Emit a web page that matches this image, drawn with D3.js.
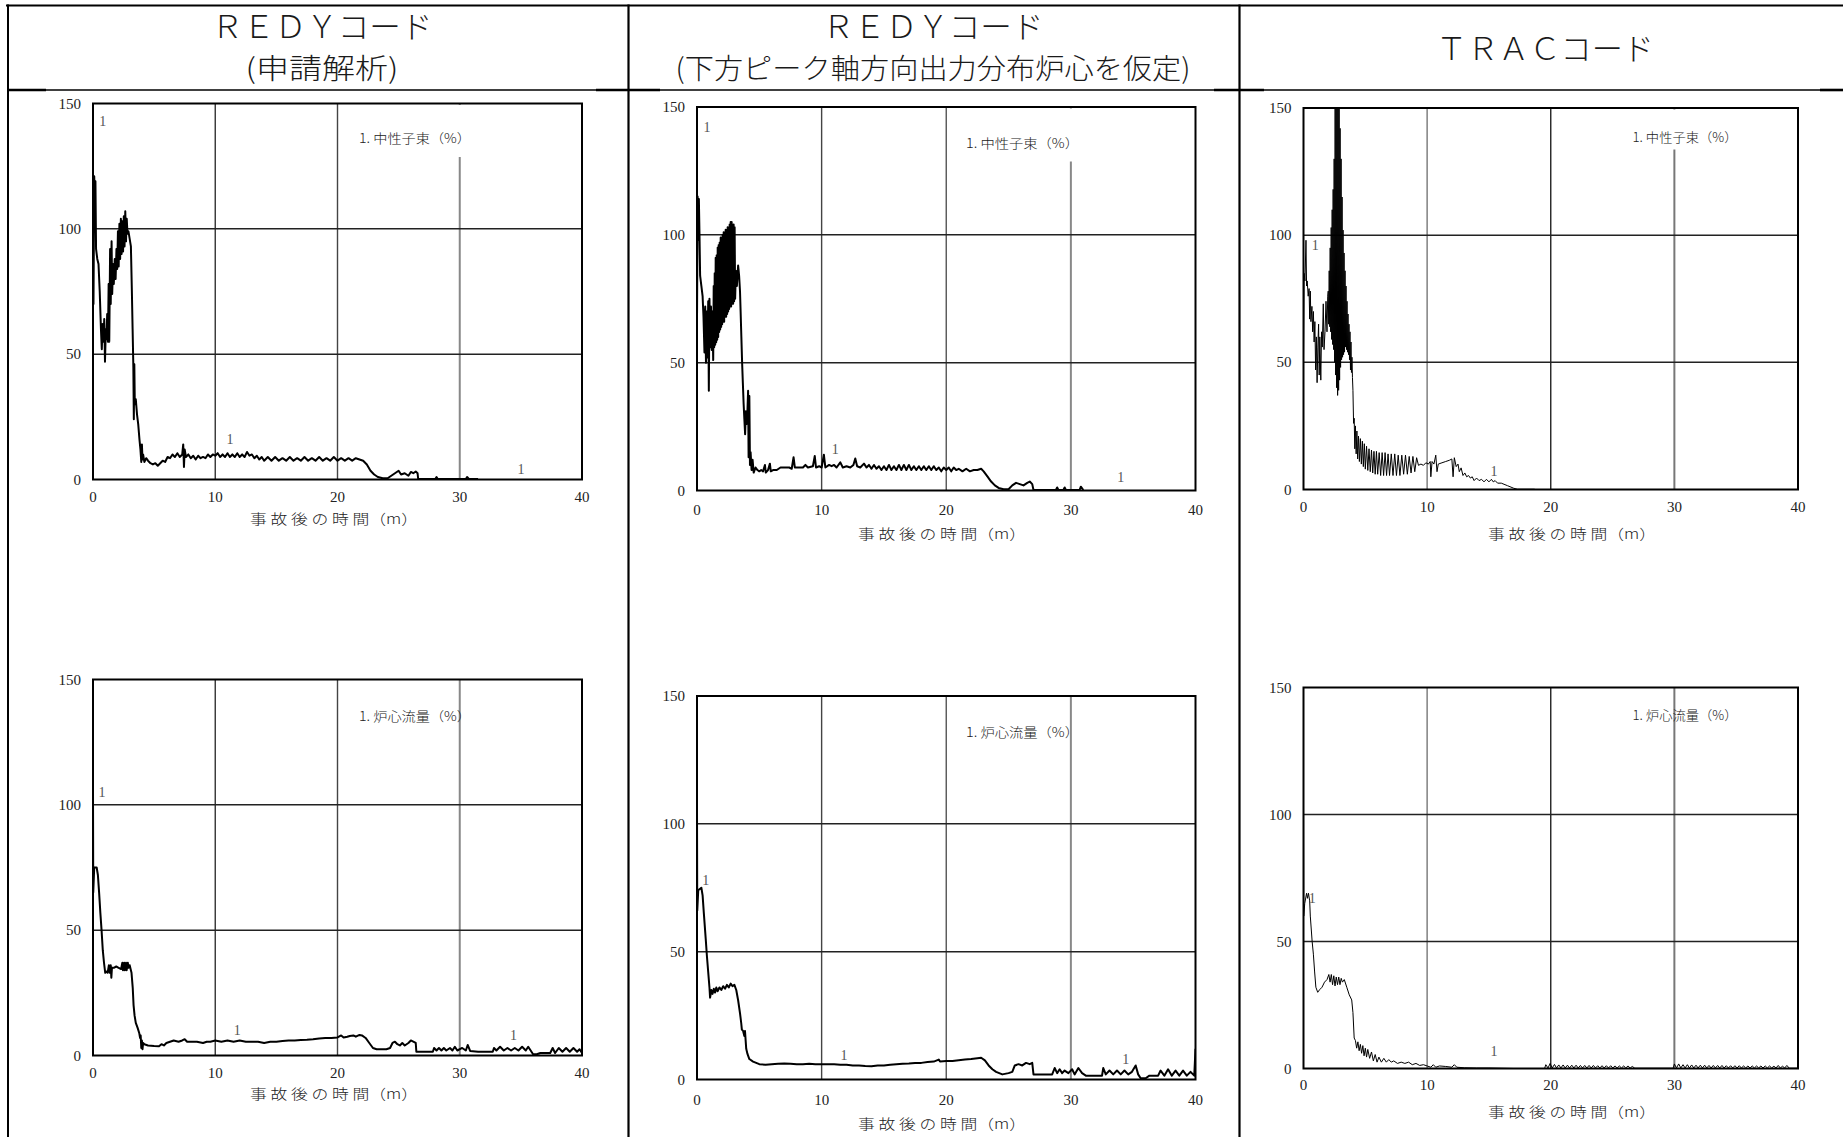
<!DOCTYPE html>
<html><head><meta charset="utf-8">
<script src="https://cdn.jsdelivr.net/npm/d3@7"></script>
<style>body{margin:0;background:#fff}svg{display:block}</style>
</head><body>
<svg id="c" width="1843" height="1137"></svg>
<script>
// ---------- text ----------
const xTicks = [0, 10, 20, 30, 40];
const yTicks = [0, 50, 100, 150];
const colTitles = [["ＲＥＤＹコード", "(申請解析)"], ["ＲＥＤＹコード", "(下方ピーク軸方向出力分布炉心を仮定)"], ["ＴＲＡＣコード"]];
const xAxisTitle = "事 故 後 の 時 間（m）";
const legendFlux = "1. 中性子束（%）";
const legendFlow = "1. 炉心流量（%）";

// ---------- data: [time (min), value (%)] ----------
const redyA_flux = [[0,100],[0.04,70],[0.1,121],[0.15,112],[0.2,119],[0.25,92],[0.35,88],[0.45,86],[0.55,75],[0.65,60],[0.72,52],[0.78,62],[0.85,55],[0.92,64],[0.98,47],[1.05,60],[1.1,56],[1.16,66],[1.22,55],[1.28,78],[1.33,55],[1.4,92],[1.45,70],[1.52,95],[1.57,74],[1.64,86],[1.7,78],[1.78,88],[1.85,80],[1.92,92],[1.98,84],[2.04,99],[2.1,85],[2.16,102],[2.22,88],[2.28,104],[2.34,90],[2.4,103],[2.46,91],[2.52,105],[2.58,93],[2.64,107],[2.7,95],[2.76,104],[2.82,98],[2.9,99],[3.0,96],[3.1,93],[3.18,75],[3.24,60],[3.3,45],[3.34,24],[3.38,46],[3.42,30],[3.5,32],[3.6,26],[3.7,22],[3.8,16],[3.88,12],[3.95,7],[4.0,14],[4.05,8],[4.1,10],[4.2,7],[4.35,8.5],[4.5,7.5],[4.7,6.5],[4.9,6],[5.1,6.5],[5.3,5.5],[5.5,6.5],[5.7,7.5],[5.9,7],[6.1,9],[6.3,8.5],[6.5,10],[6.7,9],[6.9,10.5],[7.1,9],[7.3,10],[7.38,14],[7.44,5],[7.5,12],[7.6,9],[7.8,10],[8.0,8.5],[8.2,9.5],[8.4,8],[8.6,9.5],[8.8,8.5],[9.0,9],[9.2,8.5],[9.4,10],[9.6,9],[9.8,10],[10.0,9.5],[10.2,10.5],[10.4,9],[10.6,10],[10.8,9],[11.0,10.5],[11.2,9],[11.4,10],[11.6,9],[11.8,10.5],[12.0,9],[12.2,10],[12.4,9],[12.6,11],[12.8,9.5],[13.0,10],[13.2,8.5],[13.4,9.5],[13.6,8],[13.8,9],[14.0,7.5],[14.3,9],[14.6,7.5],[14.9,9],[15.2,7.5],[15.5,8.5],[15.8,7.5],[16.1,9],[16.4,7.5],[16.7,8.5],[17.0,7.5],[17.3,9],[17.6,7.5],[17.9,8.5],[18.2,7.5],[18.5,9],[18.8,7.5],[19.1,8.5],[19.4,7.5],[19.7,9],[20.0,7.5],[20.3,8.5],[20.6,7.5],[20.9,8.5],[21.2,7.5],[21.5,8.5],[21.8,8],[22.1,7.5],[22.4,6],[22.7,3.5],[23.0,2],[23.3,1],[23.7,0.5],[24.1,0.5],[24.4,1.5],[24.7,2.5],[25.0,3.5],[25.2,2],[25.5,2.5],[25.8,1.5],[26.0,3],[26.2,2.5],[26.4,3.2],[26.55,2.5],[26.6,0.2],[28.0,0.2],[28.1,1],[28.2,0.2],[30.5,0.2],[30.6,1],[30.75,0.2],[31.5,0.2]];
const redyA_fluxLabels = [[0.8,143],[11.2,16],[35,4]];

const redyB_flux = [[0,66],[0.05,115],[0.1,98],[0.15,114],[0.2,100],[0.25,84],[0.35,80],[0.45,76],[0.52,68],[0.6,54],[0.66,72],[0.72,50],[0.78,70],[0.84,52],[0.9,74],[0.95,39],[1.0,75],[1.06,56],[1.12,72],[1.18,55],[1.24,70],[1.3,51],[1.34,80],[1.38,56],[1.42,85],[1.46,57],[1.50,91],[1.54,58],[1.58,92],[1.62,59],[1.66,95],[1.70,60],[1.74,96],[1.78,62],[1.82,97],[1.86,63],[1.90,99],[1.94,64],[1.98,99],[2.02,65],[2.06,100],[2.10,66],[2.14,101],[2.18,66],[2.22,101],[2.26,68],[2.30,102],[2.34,68],[2.38,102],[2.42,69],[2.46,103],[2.50,70],[2.54,103],[2.58,71],[2.62,104],[2.66,72],[2.70,105],[2.74,72],[2.78,105],[2.82,73],[2.86,104],[2.90,73],[2.94,104],[2.98,74],[3.02,103],[3.06,75],[3.12,86],[3.2,80],[3.3,88],[3.38,84],[3.45,78],[3.5,70],[3.56,60],[3.62,50],[3.68,42],[3.74,34],[3.8,28],[3.86,22],[3.92,31],[3.98,26],[4.04,30],[4.1,39],[4.14,13],[4.2,37],[4.25,10],[4.3,15],[4.38,8],[4.46,12],[4.55,7],[4.7,9],[4.85,8],[5.0,7.5],[5.15,8],[5.3,7.5],[5.45,10],[5.52,7],[5.7,8],[5.85,10.5],[5.92,7.5],[6.1,8],[6.4,8],[6.7,9],[7.0,9],[7.4,9],[7.6,8.5],[7.75,13],[7.85,9],[8.2,9],[8.5,9],[8.7,10],[8.9,9],[9.3,9.5],[9.45,13.5],[9.55,9],[9.8,9.5],[10.0,9],[10.18,14],[10.3,9],[10.6,10],[10.8,9.5],[11.0,10],[11.2,9],[11.5,11],[11.7,9],[12.0,9.5],[12.3,9],[12.55,10],[12.7,12.5],[12.85,9.5],[13.1,9],[13.4,10.5],[13.6,9],[13.8,10],[14.0,8.5],[14.2,10],[14.4,8.5],[14.6,9.5],[14.8,8],[15.0,9.5],[15.2,8],[15.4,10],[15.6,8],[15.8,9.5],[16.0,8],[16.2,10],[16.4,8],[16.6,10],[16.8,8],[17.0,10],[17.2,8],[17.4,9.5],[17.6,8],[17.8,9.5],[18.0,8],[18.2,9.5],[18.4,8],[18.6,9.5],[18.8,8],[19.0,9.5],[19.2,8],[19.4,9],[19.6,7.5],[19.8,9],[20.0,8],[20.2,9],[20.4,7.5],[20.6,9],[20.8,8],[21.0,8.5],[21.3,7.5],[21.6,8.5],[21.9,7.5],[22.2,8],[22.5,8],[22.8,8.5],[23.0,7.5],[23.3,5.5],[23.6,3.5],[23.9,2],[24.2,1],[24.6,0.5],[25.0,0.5],[25.3,2],[25.6,3],[25.9,2.5],[26.2,2],[26.5,3],[26.7,3.5],[26.9,2.5],[27.0,0.2],[28.8,0.2],[28.9,1.2],[29.0,0.2],[29.4,0.2],[29.5,1.2],[29.6,0.2],[30.7,0.2],[30.8,1.5],[31.0,0.2]];
const redyB_fluxLabels = [[0.8,142],[11.1,16],[34,5]];

const trac_flux = [[0,52],[0.05,85],[0.12,82],[0.2,98],[0.25,80],[0.3,82],[0.38,76],[0.45,79],[0.5,67],[0.55,78],[0.6,66],[0.68,72],[0.74,62],[0.8,70],[0.86,58],[0.92,66],[0.98,47],[1.04,60],[1.1,42],[1.16,56],[1.22,65],[1.27,45],[1.32,60],[1.4,43],[1.46,62],[1.52,56],[1.6,73],[1.66,55],[1.74,62],[1.82,74],[1.9,62],[1.96,76],[2.00,78],[2.04,65],[2.08,86],[2.12,64],[2.16,95],[2.20,62],[2.24,103],[2.28,59],[2.32,110],[2.36,57],[2.40,118],[2.44,55],[2.48,130],[2.52,50],[2.56,150],[2.60,45],[2.64,165],[2.68,40],[2.72,165],[2.76,37],[2.80,165],[2.84,39],[2.88,160],[2.92,43],[2.96,142],[3.00,48],[3.04,130],[3.08,51],[3.12,115],[3.16,52],[3.20,102],[3.24,53],[3.28,93],[3.32,54],[3.36,86],[3.40,56],[3.44,80],[3.48,55],[3.52,74],[3.56,54],[3.60,69],[3.64,53],[3.68,65],[3.72,51],[3.76,62],[3.80,47],[3.84,58],[3.88,46],[3.92,52],[3.96,44],[4.0,39],[4.05,26],[4.1,28],[4.15,16],[4.2,25],[4.26,14],[4.32,23],[4.38,12],[4.45,21],[4.52,11],[4.6,20],[4.68,10],[4.76,19],[4.84,9],[4.92,18],[5.0,8],[5.1,17],[5.2,7.5],[5.3,16],[5.4,7],[5.5,15.5],[5.6,6.5],[5.7,15],[5.8,6],[5.9,15],[6.0,6],[6.12,14.5],[6.24,5.5],[6.36,14.5],[6.48,5.5],[6.6,14.5],[6.72,5.5],[6.84,14],[6.96,5.5],[7.1,14],[7.24,5.5],[7.38,14],[7.52,5.5],[7.66,13.5],[7.8,5.5],[7.95,13.5],[8.1,6],[8.25,13.5],[8.4,6],[8.55,13],[8.7,6.5],[8.85,13],[9.0,7],[9.15,12.5],[9.3,9.5],[9.5,10],[9.7,9.5],[9.9,10.5],[10.1,10],[10.25,11],[10.3,5],[10.4,11],[10.55,10],[10.7,13.5],[10.8,7],[10.9,10],[11.2,10.5],[11.5,11],[11.8,11.5],[12.0,12],[12.1,5],[12.2,12.5],[12.35,9],[12.5,10],[12.6,7],[12.75,8.5],[12.9,5.5],[13.05,6.5],[13.2,5],[13.35,5.5],[13.5,4.5],[13.65,5],[13.8,3.5],[14.0,4.5],[14.2,3.5],[14.4,4],[14.6,3],[14.8,4],[15.0,3],[15.2,4],[15.35,3],[15.5,3.5],[15.7,2.5],[16.0,2.5],[16.5,1.5],[17.0,0.5],[17.3,0.1],[18.7,0.1]];
const trac_fluxLabels = [[0.96,96],[15.4,7]];

const redyA_flow = [[0,105],[0.02,65],[0.1,75],[0.3,75],[0.4,72],[0.5,65],[0.6,57],[0.7,50],[0.8,42],[0.9,37],[1.0,33],[1.1,33.5],[1.2,33],[1.3,36],[1.38,33],[1.45,36],[1.5,31],[1.55,35],[1.7,35],[1.9,35.5],[2.1,35],[2.3,34.5],[2.4,37],[2.45,34],[2.55,37],[2.6,34],[2.7,37],[2.75,34],[2.85,37],[2.9,35],[3.0,36],[3.15,33],[3.25,27],[3.32,20],[3.4,16],[3.5,13],[3.65,11],[3.78,9],[3.85,7],[3.9,8],[3.95,3],[4.0,6],[4.05,2.5],[4.1,5],[4.2,4.5],[4.5,4],[5.0,3.8],[5.4,3.7],[5.6,4.5],[5.8,4],[6.0,5],[6.3,5.5],[6.6,6],[7.0,5.5],[7.3,6],[7.5,6.5],[7.7,5.5],[8.0,5.5],[8.5,5.5],[9.0,5],[9.3,5.5],[9.6,5.5],[10.0,6],[10.5,5.5],[11.0,6],[11.5,5.5],[12.0,6],[12.5,5.5],[13.0,5.5],[13.5,5.5],[14.0,5],[14.5,5.5],[15.0,5.5],[15.5,5.8],[16.0,6],[16.5,6],[17.0,6.2],[17.5,6.3],[18.0,6.5],[18.5,6.8],[19.0,7],[19.5,7],[20.0,7.2],[20.3,8],[20.5,7.2],[20.8,7.5],[21.0,7.8],[21.3,8],[21.5,7.5],[21.8,8.2],[22.0,8],[22.3,7],[22.6,5],[22.9,3],[23.2,2.5],[23.6,2.5],[24.0,2.5],[24.3,3],[24.5,5],[24.7,5.5],[24.9,4.5],[25.1,4],[25.3,5],[25.5,4],[25.8,5],[26.0,6],[26.2,5.5],[26.4,5],[26.45,1.5],[27.0,1.5],[27.8,1.5],[27.9,3],[28.1,2],[28.3,3],[28.5,2],[28.7,3],[28.9,2],[29.2,3],[29.4,2],[29.6,3.5],[29.8,2],[30.2,3],[30.5,2],[30.65,4.2],[30.85,1.8],[31.5,1.5],[32.7,1.5],[32.8,3],[33.0,2],[33.3,3.5],[33.6,2],[33.9,3],[34.2,2],[34.5,3],[34.8,2],[35.1,3.5],[35.4,2],[35.6,3.5],[35.8,2],[36.0,0.5],[36.3,0.5],[36.6,1],[37.4,1],[37.6,3],[37.8,1],[38.1,3],[38.4,1.5],[38.7,3],[39.0,1.5],[39.3,3],[39.6,1.5],[39.8,2.5],[40,1]];
const redyA_flowLabels = [[0.73,105],[11.8,10],[34.4,8]];

const redyB_flow = [[0,105],[0.02,66],[0.1,74],[0.35,75],[0.45,72],[0.55,65],[0.7,55],[0.8,48],[0.9,42],[1.0,36],[1.05,32],[1.15,35],[1.25,33.5],[1.35,35.5],[1.45,34],[1.55,36],[1.65,34.5],[1.8,36],[1.95,35],[2.1,36.5],[2.25,35.5],[2.4,37],[2.55,36],[2.7,37.5],[2.85,36.5],[3.0,37],[3.15,35],[3.3,31],[3.45,26],[3.55,22],[3.6,19.5],[3.7,19],[3.8,17],[3.85,19],[3.95,12],[4.05,10],[4.2,8],[4.5,7],[5.0,6],[5.5,5.8],[6.0,6],[6.5,6.2],[7.0,6.3],[7.5,6.2],[8.0,6],[8.5,6],[9.0,6.2],[9.5,6],[10.0,6],[10.5,6],[11.0,6],[11.5,5.8],[12.0,5.8],[12.5,5.5],[13.0,5.5],[13.5,5.3],[14.0,5.2],[14.5,5.5],[15.0,5.5],[15.5,5.8],[16.0,6],[16.5,6.2],[17.0,6.3],[17.5,6.5],[18.0,6.5],[18.5,6.8],[19.0,7],[19.4,7.8],[19.5,7],[20.0,7.2],[20.5,7.2],[21.0,7.5],[21.5,7.8],[22.0,8],[22.5,8.3],[22.8,8.5],[23.1,7.5],[23.4,5.5],[23.7,4],[24.0,3],[24.5,2],[25.0,2.5],[25.3,3],[25.5,5.5],[25.8,6],[26.1,5.5],[26.4,6.5],[26.7,6],[26.9,6.5],[27.0,2],[27.5,2],[28.5,2],[28.7,4.5],[28.9,2.5],[29.1,4],[29.3,2.5],[29.5,3.5],[29.8,2.5],[30.1,4],[30.3,2],[30.6,4.5],[30.9,2.5],[31.2,1.5],[32.5,1.5],[32.6,4.5],[32.8,2],[33.1,3.5],[33.4,2],[33.7,3.5],[34.0,2],[34.3,3.5],[34.6,2],[34.9,3],[35.2,5.5],[35.4,2],[35.6,0.5],[36.0,0.5],[36.3,1.5],[37.0,1.5],[37.2,3.5],[37.5,1.5],[37.8,4],[38.1,1.5],[38.4,3.5],[38.7,1.5],[39.0,3.5],[39.3,1.5],[39.6,3],[39.9,1.5],[40,12]];
const redyB_flowLabels = [[0.7,78],[11.8,9.5],[34.4,8]];

const trac_flow = [[0,105],[0.02,60],[0.1,65],[0.25,69],[0.32,67],[0.4,69],[0.5,66],[0.55,60],[0.7,50],[0.8,45],[0.9,38],[1.0,32],[1.15,30],[1.3,31],[1.5,32],[1.7,34],[1.9,35],[2.05,37],[2.15,34],[2.25,37],[2.35,33],[2.45,36.5],[2.55,32.5],[2.65,36],[2.75,33],[2.85,36],[2.95,33],[3.05,35.5],[3.15,34],[3.3,35],[3.5,32],[3.7,29],[3.9,27],[4.0,22],[4.1,12],[4.2,11],[4.3,8],[4.4,10.5],[4.5,7],[4.6,9.5],[4.7,6],[4.8,9],[4.9,5],[5.0,8],[5.1,4.5],[5.2,7.5],[5.35,4],[5.5,6.5],[5.65,3],[5.8,5.5],[5.95,2.5],[6.1,4.5],[6.3,2.5],[6.5,4],[6.7,2.5],[6.9,3.5],[7.1,2.5],[7.3,3],[7.6,2],[7.9,2.5],[8.2,2],[8.5,2.5],[8.8,1.5],[9.1,2],[9.4,1.2],[9.7,1.5],[10.0,1],[10.3,0.5],[10.5,1.5],[10.7,0.5],[11.0,1],[11.5,0.8],[12.0,0.5],[12.2,1.5],[12.4,0.5],[13.0,0.3],[14.0,0.2],[15.0,0.2],[17.0,0],[19.5,0],[19.6,1.5],[19.78,0.2],[19.95,2],[20.12,0.2],[20.3,1.6],[20.47,0.2],[20.65,1.4],[20.82,0.2],[21.0,1.4],[21.17,0.2],[21.35,1.3],[21.52,0.2],[21.7,1.3],[21.87,0.2],[22.05,1.3],[22.22,0.2],[22.4,1.2],[22.57,0.2],[22.75,1.2],[22.92,0.2],[23.1,1.2],[23.27,0.2],[23.45,1.2],[23.62,0.2],[23.8,1.1],[23.97,0.2],[24.15,1.1],[24.32,0.2],[24.5,1.1],[24.67,0.2],[24.85,1.1],[25.02,0.2],[25.2,1],[25.37,0.2],[25.55,1],[25.72,0.2],[25.9,1],[26.07,0.2],[26.25,1],[26.42,0.2],[26.6,0.8],[26.8,0.1],[29.9,0.1],[30.0,1.8],[30.17,0.2],[30.35,1.8],[30.52,0.2],[30.7,1.5],[30.87,0.2],[31.05,1.5],[31.22,0.2],[31.4,1.4],[31.57,0.2],[31.75,1.3],[31.92,0.2],[32.1,1.3],[32.27,0.2],[32.45,1.3],[32.62,0.2],[32.8,1.2],[32.97,0.2],[33.15,1.2],[33.32,0.2],[33.5,1.2],[33.67,0.2],[33.85,1.2],[34.02,0.2],[34.2,1.1],[34.37,0.2],[34.55,1.1],[34.72,0.2],[34.9,1.1],[35.07,0.2],[35.25,1.1],[35.42,0.2],[35.6,1],[35.77,0.2],[35.95,1],[36.12,0.2],[36.3,1],[36.47,0.2],[36.65,1],[36.82,0.2],[37.0,1],[37.17,0.2],[37.35,1],[37.52,0.2],[37.7,1],[37.87,0.2],[38.05,0.9],[38.22,0.2],[38.4,1.2],[38.57,0.2],[38.75,0.9],[38.92,0.2],[39.1,1.2],[39.3,0.1],[40,0.1]];
const trac_flowLabels = [[0.7,67],[15.4,6.5]];

// ---------- layout ----------
const panels = [
  {x0:93, x1:582, y0:103.5, y1:479.5, data:redyA_flux, labels:redyA_fluxLabels, legend:legendFlux, lw:2, tickDy:17, titleX:334, titleDy:38, legDx:266, legDy:34, legW:112, mask:52, grid:["#333","#444","#888"]},
  {x0:697, x1:1195.5, y0:107, y1:490.5, data:redyB_flux, labels:redyB_fluxLabels, legend:legendFlux, lw:2, tickDy:19.5, titleX:942, titleDy:42.5, legDx:269, legDy:35, legW:113, mask:53, grid:["#444","#555","#888"]},
  {x0:1303.5, x1:1798, y0:108, y1:489.5, data:trac_flux, labels:trac_fluxLabels, legend:legendFlux, lw:1, tickDy:17.5, titleX:1572, titleDy:43.5, legDx:329, legDy:28, legW:105, mask:40, grid:["#777","#222","#777"]},
  {x0:93, x1:582, y0:679.5, y1:1055.5, data:redyA_flow, labels:redyA_flowLabels, legend:legendFlow, lw:2, tickDy:17, titleX:334, titleDy:37.5, legDx:266, legDy:35.5, legW:112, mask:0, grid:["#333","#444","#888"]},
  {x0:697, x1:1195.5, y0:696, y1:1079.5, data:redyB_flow, labels:redyB_flowLabels, legend:legendFlow, lw:2, tickDy:20, titleX:942, titleDy:43.5, legDx:269, legDy:35, legW:113, mask:0, grid:["#444","#555","#888"]},
  {x0:1303.5, x1:1798, y0:687.5, y1:1068.5, data:trac_flow, labels:trac_flowLabels, legend:legendFlow, lw:1, tickDy:16, titleX:1572, titleDy:42.5, legDx:329, legDy:27, legW:105, mask:0, grid:["#777","#222","#777"]}
];

const svg = d3.select("#c");
const serif = "'Liberation Serif','Noto Sans CJK JP',serif";
const cjk = "'Noto Sans CJK JP','Liberation Serif',sans-serif";

// ---------- table frame ----------
const frame = svg.append("g").attr("stroke", "#000").attr("fill", "none");
frame.append("line").attr("x1", 6).attr("x2", 1843).attr("y1", 5.5).attr("y2", 5.5).attr("stroke-width", 2.2);
frame.append("line").attr("x1", 8).attr("x2", 8).attr("y1", 4.5).attr("y2", 1137).attr("stroke-width", 2);
frame.append("line").attr("x1", 628.5).attr("x2", 628.5).attr("y1", 4.5).attr("y2", 1137).attr("stroke-width", 2.2);
frame.append("line").attr("x1", 1239.5).attr("x2", 1239.5).attr("y1", 4.5).attr("y2", 1137).attr("stroke-width", 2.2);
frame.append("line").attr("x1", 8).attr("x2", 1843).attr("y1", 90).attr("y2", 90).attr("stroke-width", 1.3);
[[8,46],[596,660],[1214,1264],[1820,1843]].forEach(s =>
  frame.append("line").attr("x1", s[0]).attr("x2", s[1]).attr("y1", 90).attr("y2", 90).attr("stroke-width", 2.6));

// ---------- column titles ----------
const colCenters = [322, 933, 1545];
const line1W = [221, 221, 218];
const line2W = [153, 515];
colTitles.forEach((lines, i) => {
  const one = lines.length === 1;
  svg.append("text").attr("x", colCenters[i]).attr("y", one ? 60 : 38).attr("text-anchor", "middle")
    .attr("font-family", cjk).attr("font-weight", 300).attr("font-size", 31).attr("fill", "#1a1a1a")
    .attr("textLength", line1W[i]).attr("lengthAdjust", "spacingAndGlyphs").text(lines[0]);
  if (!one) {
    svg.append("text").attr("x", colCenters[i]).attr("y", 79).attr("text-anchor", "middle")
      .attr("font-family", cjk).attr("font-weight", 300).attr("font-size", 28).attr("fill", "#1a1a1a")
      .attr("textLength", line2W[i]).attr("lengthAdjust", "spacingAndGlyphs").text(lines[1]);
  }
});

// ---------- panels ----------
panels.forEach((p, idx) => {
  const x = d3.scaleLinear().domain([0, 40]).range([p.x0, p.x1]);
  const y = d3.scaleLinear().domain([0, 150]).range([p.y1, p.y0]);
  const g = svg.append("g");

  [10, 20, 30].forEach((t, k) => {
    g.append("line").attr("x1", x(t)).attr("x2", x(t)).attr("y1", p.y0).attr("y2", p.y1)
      .attr("stroke", p.grid[k]).attr("stroke-width", k === 2 ? 2 : 1.4);
  });
  [50, 100].forEach(v => {
    g.append("line").attr("x1", p.x0).attr("x2", p.x1).attr("y1", y(v)).attr("y2", y(v))
      .attr("stroke", "#222").attr("stroke-width", 1.5);
  });

  if (p.mask) {
    g.append("rect").attr("x", p.x0 + p.legDx - 6).attr("y", p.y0 + 1.5)
      .attr("width", p.legW + 14).attr("height", p.mask).attr("fill", "#fff");
  }

  const cid = "clip" + idx;
  svg.append("clipPath").attr("id", cid).append("rect")
    .attr("x", p.x0).attr("y", p.y0).attr("width", p.x1 - p.x0).attr("height", p.y1 - p.y0);
  const line = d3.line().x(d => x(d[0])).y(d => y(d[1]));
  g.append("path").datum(p.data).attr("d", line).attr("clip-path", `url(#${cid})`)
    .attr("fill", "none").attr("stroke", "#000").attr("stroke-width", p.lw)
    .attr("stroke-linejoin", "round");

  g.append("rect").attr("x", p.x0).attr("y", p.y0).attr("width", p.x1 - p.x0).attr("height", p.y1 - p.y0)
    .attr("fill", "none").attr("stroke", "#000").attr("stroke-width", 2);

  g.selectAll(".cl").data(p.labels).enter().append("text")
    .attr("x", d => x(d[0])).attr("y", d => y(d[1])).attr("text-anchor", "middle")
    .attr("dominant-baseline", "central").attr("font-family", serif).attr("font-size", 14)
    .attr("fill", "#555").text("1");

  g.append("text").attr("x", p.x0 + p.legDx).attr("y", p.y0 + p.legDy).attr("dominant-baseline", "central")
    .attr("font-family", cjk).attr("font-weight", 300).attr("font-size", 13).attr("fill", "#222")
    .attr("textLength", p.legW).attr("lengthAdjust", "spacingAndGlyphs").text(p.legend);

  g.selectAll(".yt").data(yTicks).enter().append("text")
    .attr("x", p.x0 - 12).attr("y", d => y(d)).attr("text-anchor", "end").attr("dominant-baseline", "central")
    .attr("font-family", serif).attr("font-size", 15).attr("fill", "#222").text(d => d);
  g.selectAll(".xt").data(xTicks).enter().append("text")
    .attr("x", d => x(d)).attr("y", p.y1 + p.tickDy).attr("text-anchor", "middle").attr("dominant-baseline", "central")
    .attr("font-family", serif).attr("font-size", 15).attr("fill", "#222").text(d => d);
  g.append("text").attr("x", p.titleX).attr("y", p.y1 + p.titleDy).attr("text-anchor", "middle")
    .attr("dominant-baseline", "central").attr("font-family", cjk).attr("font-weight", 300).attr("font-size", 14).attr("fill", "#222")
    .attr("textLength", 168).attr("lengthAdjust", "spacingAndGlyphs").text(xAxisTitle);
});
</script>
</body></html>
